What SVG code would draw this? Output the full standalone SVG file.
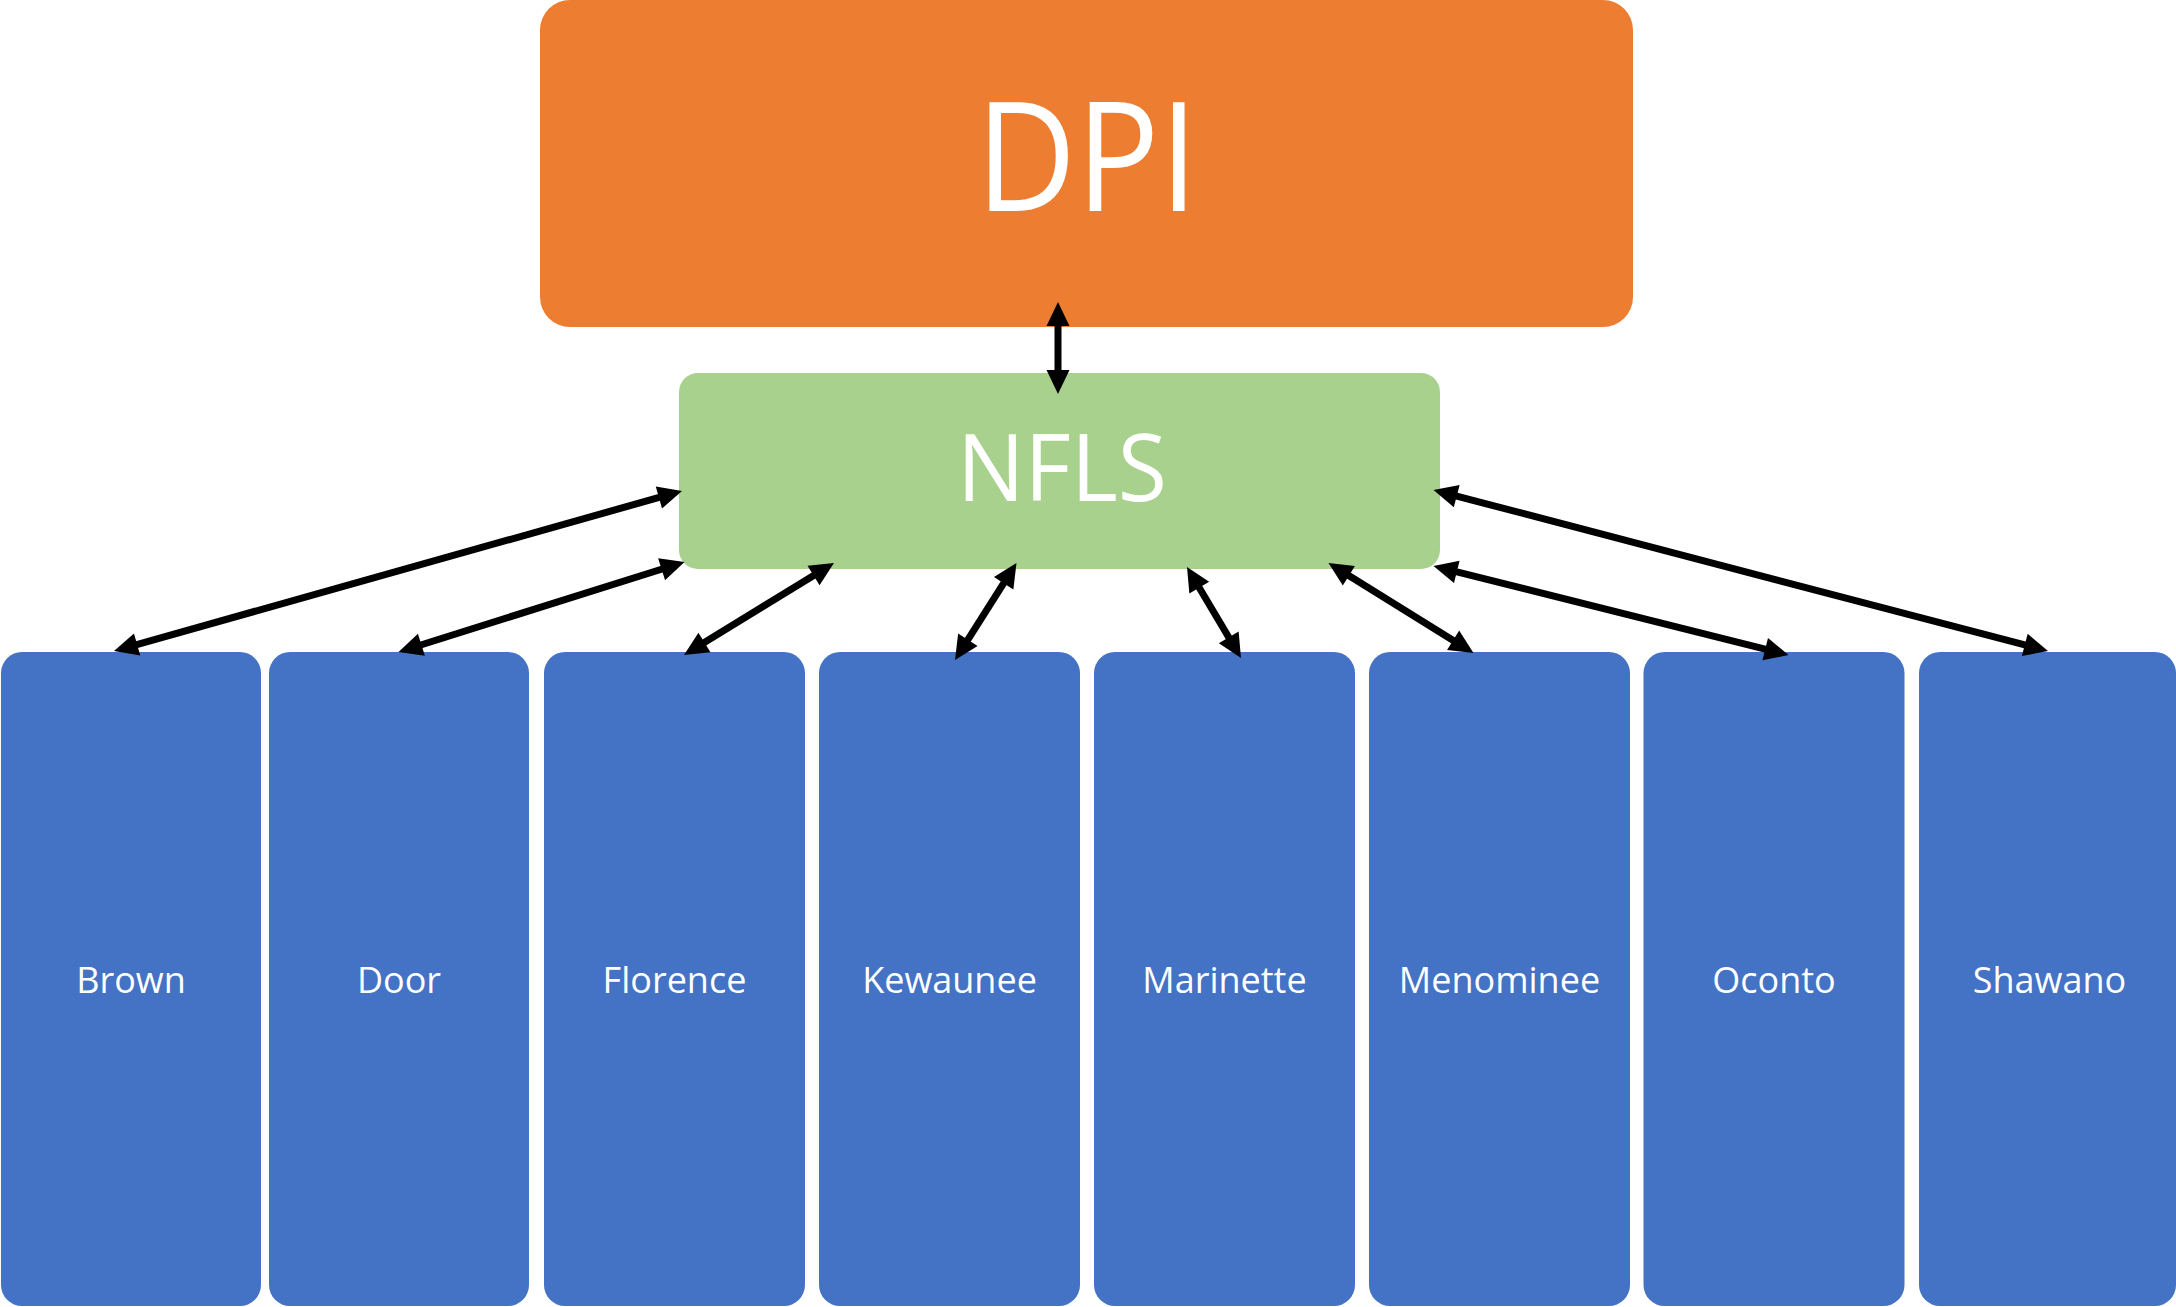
<svg xmlns="http://www.w3.org/2000/svg" width="2176" height="1307" viewBox="0 0 2176 1307">
<style>
.dpi{fill:#ED7D31}
.nfls{fill:#A9D18E}
.cty{fill:#4472C4}
.t{fill:#FFFFFF;font-family:"Open Sans","Liberation Sans",sans-serif;text-anchor:middle}
.lbl{font-size:36px}
.c{stroke:#000000;stroke-width:7;fill:none;marker-start:url(#ah);marker-end:url(#ah)}
</style>
<defs>
<marker id="ah" markerUnits="userSpaceOnUse" markerWidth="26" markerHeight="24" refX="4" refY="11.5" orient="auto-start-reverse" overflow="visible">
<path d="M0,0 L24,11.5 L0,23 Z" fill="#000000"/>
</marker>
</defs>
<rect width="2176" height="1307" fill="#FFFFFF"/>
<g id="node-dpi">
<rect class="dpi" x="540" y="0" width="1093" height="327" rx="30" ry="30"/>
<text class="t" x="1087" y="211" font-size="152" textLength="222" lengthAdjust="spacingAndGlyphs">DPI</text>
</g>
<g id="node-nfls">
<rect class="nfls" x="679" y="373" width="761" height="196" rx="19" ry="19"/>
<text class="t" x="1062" y="501" font-size="94" textLength="210" lengthAdjust="spacingAndGlyphs">NFLS</text>
</g>
<g id="node-brown">
<rect class="cty" x="1" y="652" width="260" height="654" rx="21" ry="21"/>
<text class="t lbl" x="131" y="993">Brown</text>
</g>
<g id="node-door">
<rect class="cty" x="269" y="652" width="260" height="654" rx="21" ry="21"/>
<text class="t lbl" x="399" y="993">Door</text>
</g>
<g id="node-florence">
<rect class="cty" x="544" y="652" width="261" height="654" rx="21" ry="21"/>
<text class="t lbl" x="674.5" y="993">Florence</text>
</g>
<g id="node-kewaunee">
<rect class="cty" x="819" y="652" width="261" height="654" rx="21" ry="21"/>
<text class="t lbl" x="949.5" y="993">Kewaunee</text>
</g>
<g id="node-marinette">
<rect class="cty" x="1094" y="652" width="261" height="654" rx="21" ry="21"/>
<text class="t lbl" x="1224.5" y="993">Marinette</text>
</g>
<g id="node-menominee">
<rect class="cty" x="1369" y="652" width="261" height="654" rx="21" ry="21"/>
<text class="t lbl" x="1499.5" y="993">Menominee</text>
</g>
<g id="node-oconto">
<rect class="cty" x="1643.5" y="652" width="261" height="654" rx="21" ry="21"/>
<text class="t lbl" x="1774" y="993">Oconto</text>
</g>
<g id="node-shawano">
<rect class="cty" x="1919" y="652" width="257" height="654" rx="21" ry="21"/>
<text class="t lbl" x="2049.5" y="993">Shawano</text>
</g>
<g id="connectors">
<line class="c" x1="1058" y1="322" x2="1058" y2="374"/>
<line class="c" x1="662.75" y1="496.42" x2="133.25" y2="645.58"/>
<line class="c" x1="665.42" y1="568.0" x2="417.58" y2="646.0"/>
<line class="c" x1="816.95" y1="573.46" x2="701.05" y2="644.54"/>
<line class="c" x1="1005.79" y1="579.89" x2="965.71" y2="643.11"/>
<line class="c" x1="1197.21" y1="584.2" x2="1230.79" y2="640.8"/>
<line class="c" x1="1345.49" y1="573.55" x2="1456.51" y2="642.45"/>
<line class="c" x1="1452.9" y1="570.86" x2="1769.1" y2="650.14"/>
<line class="c" x1="1452.85" y1="495.07" x2="2028.65" y2="645.93"/>
</g>
</svg>
